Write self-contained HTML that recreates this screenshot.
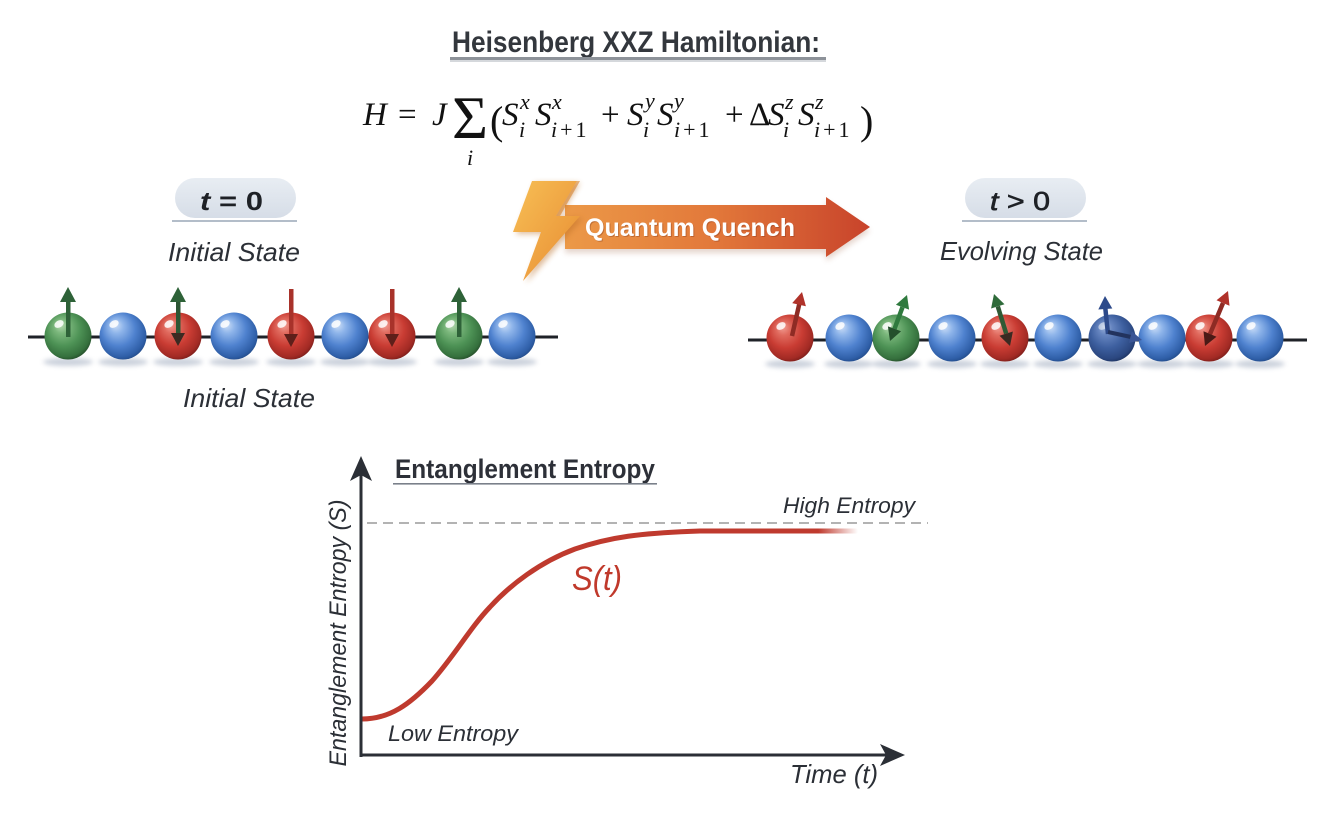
<!DOCTYPE html>
<html>
<head>
<meta charset="utf-8">
<style>
  html, body { margin: 0; padding: 0; background: #ffffff; }
  svg { display: block; }
  .sans { font-family: "Liberation Sans", "DejaVu Sans", sans-serif; }
  .serif { font-family: "Liberation Serif", "DejaVu Serif", serif; }
</style>
</head>
<body>
<svg width="1340" height="818" viewBox="0 0 1340 818" xmlns="http://www.w3.org/2000/svg">
  <defs>
    <radialGradient id="gb" cx="0.45" cy="0.42" r="0.6" fx="0.33" fy="0.25">
      <stop offset="0" stop-color="#d2e2f8"/>
      <stop offset="0.25" stop-color="#8fb5ea"/>
      <stop offset="0.6" stop-color="#4f82cf"/>
      <stop offset="0.9" stop-color="#2f5fa8"/>
      <stop offset="1" stop-color="#244d8c"/>
    </radialGradient>
    <radialGradient id="gr" cx="0.45" cy="0.42" r="0.6" fx="0.33" fy="0.25">
      <stop offset="0" stop-color="#f4a49a"/>
      <stop offset="0.25" stop-color="#e06a5e"/>
      <stop offset="0.6" stop-color="#c93c33"/>
      <stop offset="0.9" stop-color="#a22a24"/>
      <stop offset="1" stop-color="#7d1f1b"/>
    </radialGradient>
    <radialGradient id="gg" cx="0.45" cy="0.42" r="0.6" fx="0.33" fy="0.25">
      <stop offset="0" stop-color="#bcdcb7"/>
      <stop offset="0.25" stop-color="#7bb77c"/>
      <stop offset="0.6" stop-color="#4d9255"/>
      <stop offset="0.9" stop-color="#35703d"/>
      <stop offset="1" stop-color="#264f2b"/>
    </radialGradient>
    <radialGradient id="gd" cx="0.45" cy="0.42" r="0.6" fx="0.33" fy="0.25">
      <stop offset="0" stop-color="#9db3da"/>
      <stop offset="0.25" stop-color="#6584bf"/>
      <stop offset="0.6" stop-color="#3d5f9f"/>
      <stop offset="0.9" stop-color="#2b4780"/>
      <stop offset="1" stop-color="#1f3563"/>
    </radialGradient>
    <linearGradient id="pill" x1="0" y1="0" x2="0" y2="1">
      <stop offset="0" stop-color="#e8edf3"/>
      <stop offset="1" stop-color="#d6dde7"/>
    </linearGradient>
    <linearGradient id="qarrow" x1="560" y1="0" x2="870" y2="0" gradientUnits="userSpaceOnUse">
      <stop offset="0" stop-color="#ec9a48"/>
      <stop offset="0.5" stop-color="#e2783a"/>
      <stop offset="1" stop-color="#c8432b"/>
    </linearGradient>
    <linearGradient id="bolt" x1="0" y1="0" x2="1" y2="1">
      <stop offset="0" stop-color="#f7bf55"/>
      <stop offset="0.6" stop-color="#eea040"/>
      <stop offset="1" stop-color="#e2862c"/>
    </linearGradient>
    <linearGradient id="curve" x1="362" y1="0" x2="858" y2="0" gradientUnits="userSpaceOnUse">
      <stop offset="0" stop-color="#bf3a2e" stop-opacity="1"/>
      <stop offset="0.92" stop-color="#bf3a2e" stop-opacity="1"/>
      <stop offset="1" stop-color="#bf3a2e" stop-opacity="0"/>
    </linearGradient>
    <filter id="blur" x="-50%" y="-200%" width="200%" height="500%">
      <feGaussianBlur stdDeviation="2.5"/>
    </filter>
    <filter id="blur2" x="-20%" y="-50%" width="140%" height="200%">
      <feGaussianBlur stdDeviation="3"/>
    </filter>
  </defs>

  <rect x="0" y="0" width="1340" height="818" fill="#ffffff"/>

  <!-- Title -->
  <text class="sans" x="452" y="52" font-size="30" font-weight="bold" fill="#33373d" textLength="368" lengthAdjust="spacingAndGlyphs">Heisenberg XXZ Hamiltonian:</text>
  <rect x="450" y="57" width="376" height="3" fill="#8d9299"/>
  <rect x="450" y="60" width="376" height="2" fill="#d5d8dc"/>

  <!-- Formula -->
  <g class="serif" fill="#111111">
    <text x="363" y="125" font-size="33" font-style="italic">H</text>
    <text x="398" y="125" font-size="33">=</text>
    <text x="432" y="125" font-size="33" font-style="italic">J</text>
    <text x="452" y="138" font-size="60" textLength="36" lengthAdjust="spacingAndGlyphs">Σ</text>
    <text x="467" y="165" font-size="22" font-style="italic">i</text>
    <text x="490" y="134" font-size="40">(</text>

    <text x="502" y="125" font-size="33" font-style="italic">S</text>
    <text x="520" y="109" font-size="22" font-style="italic">x</text>
    <text x="519" y="137" font-size="22" font-style="italic">i</text>
    <text x="535" y="125" font-size="33" font-style="italic">S</text>
    <text x="552" y="109" font-size="22" font-style="italic">x</text>
    <text x="551" y="137" font-size="22"><tspan font-style="italic">i</tspan><tspan dx="3">+</tspan><tspan dx="3">1</tspan></text>

    <text x="601" y="125" font-size="33">+</text>

    <text x="627" y="125" font-size="33" font-style="italic">S</text>
    <text x="645" y="108" font-size="22" font-style="italic">y</text>
    <text x="643" y="137" font-size="22" font-style="italic">i</text>
    <text x="657" y="125" font-size="33" font-style="italic">S</text>
    <text x="674" y="108" font-size="22" font-style="italic">y</text>
    <text x="674" y="137" font-size="22"><tspan font-style="italic">i</tspan><tspan dx="3">+</tspan><tspan dx="3">1</tspan></text>

    <text x="725" y="125" font-size="33">+</text>
    <text x="749" y="125" font-size="33">Δ</text>

    <text x="768" y="125" font-size="33" font-style="italic">S</text>
    <text x="785" y="109" font-size="22" font-style="italic">z</text>
    <text x="783" y="137" font-size="22" font-style="italic">i</text>
    <text x="798" y="125" font-size="33" font-style="italic">S</text>
    <text x="815" y="109" font-size="22" font-style="italic">z</text>
    <text x="814" y="137" font-size="22"><tspan font-style="italic">i</tspan><tspan dx="3">+</tspan><tspan dx="3">1</tspan></text>
    <text x="860" y="134" font-size="40">)</text>
  </g>

  <!-- Pills -->
  <rect x="175" y="178" width="121" height="40" rx="20" fill="url(#pill)"/>
  <rect x="172" y="220" width="125" height="2" fill="#b3bdc9"/>
  <text class="sans" x="200" y="210" font-size="26" font-weight="bold" fill="#1e2126" textLength="63" lengthAdjust="spacingAndGlyphs"><tspan font-style="italic">t</tspan> = 0</text>

  <rect x="965" y="178" width="121" height="40" rx="20" fill="url(#pill)"/>
  <rect x="962" y="220" width="125" height="2" fill="#b3bdc9"/>
  <text class="sans" x="990" y="210" font-size="26" fill="#1e2126" stroke="#1e2126" stroke-width="0.6" textLength="60" lengthAdjust="spacingAndGlyphs"><tspan font-style="italic">t</tspan> &gt; 0</text>

  <!-- Labels -->
  <text class="sans" x="168" y="261" font-size="26" font-style="italic" fill="#2b2f36" textLength="132" lengthAdjust="spacingAndGlyphs">Initial State</text>
  <text class="sans" x="940" y="260" font-size="26" font-style="italic" fill="#2b2f36" textLength="163" lengthAdjust="spacingAndGlyphs">Evolving State</text>
  <text class="sans" x="183" y="407" font-size="26" font-style="italic" fill="#2b2f36" textLength="132" lengthAdjust="spacingAndGlyphs">Initial State</text>

  <!-- Quantum Quench arrow -->
  <path d="M565 209 L826 209 L826 201 L870 231 L826 261 L826 253 L565 253 Z" fill="#9a5a3a" opacity="0.25" filter="url(#blur2)"/>
  <path d="M565 205 L826 205 L826 197 L870 227 L826 257 L826 249 L565 249 Z" fill="url(#qarrow)"/>
  <polygon points="535,183 580,183 559,218 583,218 526,283 544,234 516,234" fill="#b86a20" opacity="0.45" filter="url(#blur2)"/>
  <polygon points="532,181 577,181 556,216 580,216 523,281 541,232 513,232" fill="url(#bolt)"/>
  <polygon points="577,181 556,216 560,216 580,181" fill="#d9862e" opacity="0.6"/>
  <text class="sans" x="586" y="237" font-size="25" font-weight="bold" fill="#7a3318" opacity="0.35" textLength="210" lengthAdjust="spacingAndGlyphs">Quantum Quench</text>
  <text class="sans" x="585" y="236" font-size="25" font-weight="bold" fill="#ffffff" textLength="210" lengthAdjust="spacingAndGlyphs">Quantum Quench</text>

  <!-- Left chain -->
  <g fill="#7f8ea8" opacity="0.4" filter="url(#blur)">
    <ellipse cx="68" cy="362" rx="25" ry="4"/>
    <ellipse cx="123" cy="362" rx="25" ry="4"/>
    <ellipse cx="178" cy="362" rx="25" ry="4"/>
    <ellipse cx="234" cy="362" rx="25" ry="4"/>
    <ellipse cx="291" cy="362" rx="25" ry="4"/>
    <ellipse cx="345" cy="362" rx="25" ry="4"/>
    <ellipse cx="392" cy="362" rx="25" ry="4"/>
    <ellipse cx="459" cy="362" rx="25" ry="4"/>
    <ellipse cx="512" cy="362" rx="25" ry="4"/>
  </g>
  <line x1="28" y1="337" x2="558" y2="337" stroke="#1f2228" stroke-width="3"/>
  <circle cx="68" cy="336" r="23.5" fill="url(#gg)"/>
  <circle cx="123" cy="336" r="23.5" fill="url(#gb)"/>
  <circle cx="178" cy="336" r="23.5" fill="url(#gr)"/>
  <circle cx="234" cy="336" r="23.5" fill="url(#gb)"/>
  <circle cx="291" cy="336" r="23.5" fill="url(#gr)"/>
  <circle cx="345" cy="336" r="23.5" fill="url(#gb)"/>
  <circle cx="392" cy="336" r="23.5" fill="url(#gr)"/>
  <circle cx="459" cy="336" r="23.5" fill="url(#gg)"/>
  <circle cx="512" cy="336" r="23.5" fill="url(#gb)"/>
  <g fill="#ffffff" opacity="0.85">
    <ellipse cx="59" cy="324" rx="5" ry="3.5" transform="rotate(-30 59 324)"/>
    <ellipse cx="114" cy="324" rx="5" ry="3.5" transform="rotate(-30 114 324)"/>
    <ellipse cx="169" cy="324" rx="5" ry="3.5" transform="rotate(-30 169 324)"/>
    <ellipse cx="225" cy="324" rx="5" ry="3.5" transform="rotate(-30 225 324)"/>
    <ellipse cx="282" cy="324" rx="5" ry="3.5" transform="rotate(-30 282 324)"/>
    <ellipse cx="336" cy="324" rx="5" ry="3.5" transform="rotate(-30 336 324)"/>
    <ellipse cx="383" cy="324" rx="5" ry="3.5" transform="rotate(-30 383 324)"/>
    <ellipse cx="450" cy="324" rx="5" ry="3.5" transform="rotate(-30 450 324)"/>
    <ellipse cx="503" cy="324" rx="5" ry="3.5" transform="rotate(-30 503 324)"/>
  </g>
  <!-- left arrows -->
  <rect x="66" y="300" width="4.5" height="37" fill="#2e6238"/>
  <polygon points="60,302 76,302 68,287" fill="#2e6238"/>
  <rect x="176" y="300" width="4.5" height="35" fill="#2c5634"/>
  <polygon points="170,302 186,302 178,287" fill="#2e6238"/>
  <polygon points="171,333 185,333 178,346" fill="#3b2a22"/>
  <rect x="289" y="289" width="4.5" height="46" fill="#a8322a"/>
  <polygon points="284,334 298,334 291,347" fill="#5e1f1a"/>
  <rect x="390" y="289" width="4.5" height="46" fill="#a8322a"/>
  <polygon points="385,334 399,334 392,347" fill="#5e1f1a"/>
  <rect x="457" y="300" width="4.5" height="37" fill="#2e6238"/>
  <polygon points="451,302 467,302 459,287" fill="#2e6238"/>

  <!-- Right chain -->
  <g fill="#7f8ea8" opacity="0.4" filter="url(#blur)">
    <ellipse cx="790" cy="364" rx="25" ry="4"/>
    <ellipse cx="849" cy="364" rx="25" ry="4"/>
    <ellipse cx="896" cy="364" rx="25" ry="4"/>
    <ellipse cx="952" cy="364" rx="25" ry="4"/>
    <ellipse cx="1005" cy="364" rx="25" ry="4"/>
    <ellipse cx="1058" cy="364" rx="25" ry="4"/>
    <ellipse cx="1112" cy="364" rx="25" ry="4"/>
    <ellipse cx="1162" cy="364" rx="25" ry="4"/>
    <ellipse cx="1209" cy="364" rx="25" ry="4"/>
    <ellipse cx="1260" cy="364" rx="25" ry="4"/>
  </g>
  <line x1="748" y1="340" x2="1307" y2="340" stroke="#1f2228" stroke-width="3"/>
  <circle cx="790" cy="338" r="23.5" fill="url(#gr)"/>
  <circle cx="849" cy="338" r="23.5" fill="url(#gb)"/>
  <circle cx="896" cy="338" r="23.5" fill="url(#gg)"/>
  <circle cx="952" cy="338" r="23.5" fill="url(#gb)"/>
  <circle cx="1005" cy="338" r="23.5" fill="url(#gr)"/>
  <circle cx="1058" cy="338" r="23.5" fill="url(#gb)"/>
  <circle cx="1112" cy="338" r="23.5" fill="url(#gd)"/>
  <circle cx="1162" cy="338" r="23.5" fill="url(#gb)"/>
  <circle cx="1209" cy="338" r="23.5" fill="url(#gr)"/>
  <circle cx="1260" cy="338" r="23.5" fill="url(#gb)"/>
  <g fill="#ffffff" opacity="0.85">
    <ellipse cx="781" cy="326" rx="5" ry="3.5" transform="rotate(-30 781 326)"/>
    <ellipse cx="840" cy="326" rx="5" ry="3.5" transform="rotate(-30 840 326)"/>
    <ellipse cx="887" cy="326" rx="5" ry="3.5" transform="rotate(-30 887 326)"/>
    <ellipse cx="943" cy="326" rx="5" ry="3.5" transform="rotate(-30 943 326)"/>
    <ellipse cx="996" cy="326" rx="5" ry="3.5" transform="rotate(-30 996 326)"/>
    <ellipse cx="1049" cy="326" rx="5" ry="3.5" transform="rotate(-30 1049 326)"/>
    <ellipse cx="1103" cy="326" rx="5" ry="3.5" transform="rotate(-30 1103 326)" opacity="0.6"/>
    <ellipse cx="1153" cy="326" rx="5" ry="3.5" transform="rotate(-30 1153 326)"/>
    <ellipse cx="1200" cy="326" rx="5" ry="3.5" transform="rotate(-30 1200 326)"/>
    <ellipse cx="1251" cy="326" rx="5" ry="3.5" transform="rotate(-30 1251 326)"/>
  </g>
  <!-- right arrows -->
  <line x1="792" y1="336" x2="799.5" y2="303" stroke="#8e2b24" stroke-width="4.5"/>
  <polygon points="805.9,306.3 792.2,303.1 802,292" fill="#b0322a"/>

  <line x1="894.5" y1="328.8" x2="902.5" y2="307.2" stroke="#2f7a3e" stroke-width="4.5"/>
  <polygon points="909.1,309.6 895.9,304.8 907,295" fill="#2f7a3e"/>
  <polygon points="901.1,331.2 887.9,326.4 890,341" fill="#244f2c"/>

  <line x1="997.8" y1="306.4" x2="1006.2" y2="333.6" stroke="#2f5a35" stroke-width="4.5"/>
  <polygon points="991.1,308.5 1004.5,304.3 994,294" fill="#2f6b3a"/>
  <polygon points="999.5,335.7 1012.9,331.5 1010,346" fill="#3b2a22"/>

  <line x1="1108" y1="334" x2="1105.3" y2="308" stroke="#2d4a8a" stroke-width="4.5"/>
  <polygon points="1098.3,309.5 1112.3,308.5 1105,296" fill="#2d4a8a"/>
  <polyline points="1108,332 1131,337" fill="none" stroke="#22335e" stroke-width="4"/>
  <polygon points="1129,342.9 1131.8,331.3 1142,340" fill="#3a5596"/>

  <line x1="1210" y1="334" x2="1223" y2="303" stroke="#8e2b24" stroke-width="4.5"/>
  <polygon points="1229.5,305.7 1216.5,300.3 1228,291" fill="#b0322a"/>
  <polygon points="1216.5,336.7 1203.5,331.3 1205,346" fill="#4a1a16"/>

  <!-- Chart -->
  <text class="sans" x="395" y="478" font-size="27" font-weight="bold" fill="#2d3038" textLength="260" lengthAdjust="spacingAndGlyphs">Entanglement Entropy</text>
  <rect x="393" y="483" width="264" height="1.6" fill="#7a808a"/>

  <line x1="367" y1="523" x2="928" y2="523" stroke="#9a9a9a" stroke-width="1.6" stroke-dasharray="10 6"/>
  <text class="sans" x="783" y="513" font-size="22" font-style="italic" fill="#2b2f36" textLength="132" lengthAdjust="spacingAndGlyphs">High Entropy</text>

  <path d="M362,719 C390,719 410,704 432,681 C455,655 470,628 490,607 C510,585 540,562 575,549 C610,537 640,533 700,531 L856,531" fill="none" stroke="url(#curve)" stroke-width="5" stroke-linecap="round"/>
  <text class="sans" x="572" y="590" font-size="34" font-style="italic" fill="#c0392b" textLength="50" lengthAdjust="spacingAndGlyphs">S(t)</text>
  <text class="sans" x="388" y="741" font-size="22" font-style="italic" fill="#2b2f36" textLength="130" lengthAdjust="spacingAndGlyphs">Low Entropy</text>

  <line x1="361" y1="757" x2="361" y2="470" stroke="#2b2f36" stroke-width="3"/>
  <polygon points="361,456 372,481 361,475 350,481" fill="#2b2f36"/>
  <line x1="359.5" y1="755" x2="890" y2="755" stroke="#2b2f36" stroke-width="3"/>
  <polygon points="905,755 880,744 886,755 880,766" fill="#2b2f36"/>

  <text class="sans" transform="translate(346,633) rotate(-90)" text-anchor="middle" font-size="24" font-style="italic" fill="#2b2f36" textLength="267" lengthAdjust="spacingAndGlyphs">Entanglement  Entropy (S)</text>
  <text class="sans" x="790" y="783" font-size="26" font-style="italic" fill="#2b2f36" textLength="88" lengthAdjust="spacingAndGlyphs">Time (t)</text>
</svg>
</body>
</html>
